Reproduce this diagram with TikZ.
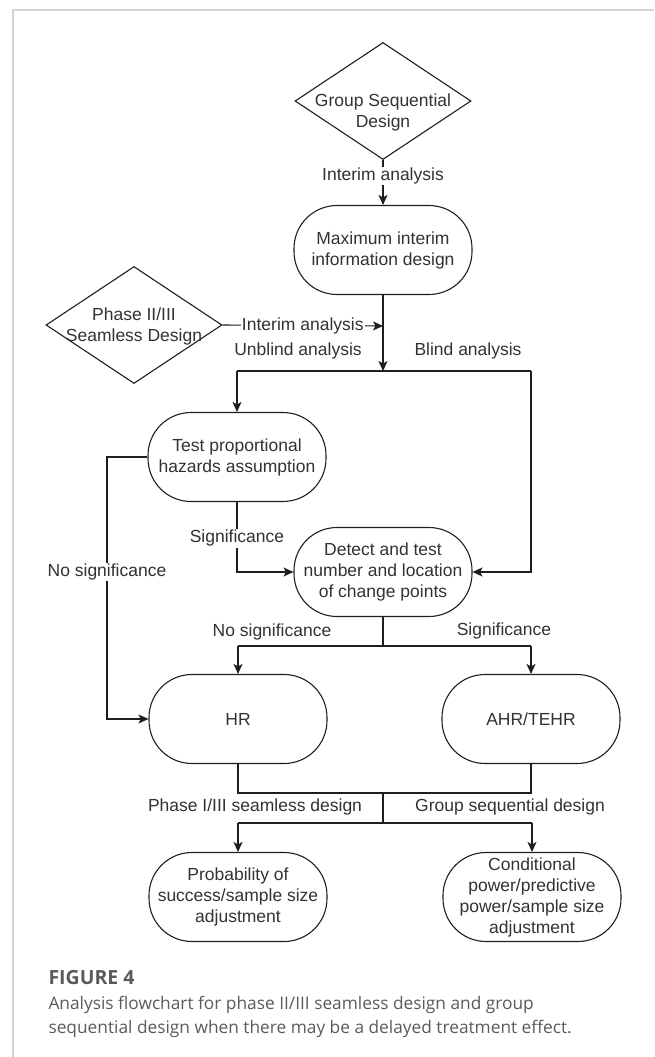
\documentclass[tikz,border=0pt]{standalone}
\usepackage{fontspec}
\setmainfont{Liberation Sans}
\newfontfamily\capfont{Open Sans}
\usepackage{tikz}
\usetikzlibrary{positioning, arrows.meta, shapes.geometric}
\definecolor{flowline}{RGB}{30, 30, 30}
\definecolor{flowtext}{RGB}{50, 50, 50}
\definecolor{framegray}{RGB}{212, 212, 212}
\definecolor{capgray}{RGB}{90, 90, 90}

\begin{document}
\begin{tikzpicture}[x=1pt, y=-1pt,
    every node/.style={font=\fontsize{17.5}{21}\selectfont, text=flowtext},
    box/.style={draw=flowline, line width=1.1pt, rectangle, rounded corners=43pt,
      minimum width=178pt, minimum height=89pt, align=center, inner sep=2pt},
    decision/.style={draw=flowline, line width=1.1pt, diamond,
      minimum width=176pt, minimum height=117pt, inner sep=0pt},
    lbl/.style={fill=white, inner sep=1pt},
    flow/.style={draw=flowline, line width=1.1pt},
    arr/.style={flow, -{Stealth[length=10pt, width=9pt, inset=2.5pt]}}]
  \useasboundingbox (0,0) rectangle (654,1057);

  % Frame
  \draw[framegray, line width=1.5pt] (13,1057) -- (13,10) -- (654,10);

  % Designs
  \node[decision] (gsd) at (383,101) {};
  \node[align=center] (gsdtxt) at (383,112) {Group Sequential\\Design};
  \node[decision] (phase) at (134,325) {};
  \node[align=center] (phasetxt) at (134,326) {Phase II/III\\Seamless Design};

  % Analyses
  \node[box] (maxinfo) at (383,250) {Maximum interim\\information design};
  \node[box] (testph) at (237,457) {Test proportional\\hazards assumption};
  \node[box] (detect) at (383,572) {Detect and test\\number and location\\of change points};
  \node[box] (hr) at (238,719) {HR};
  \node[box] (ahr) at (531,719) {AHR/TEHR};
  \node[box] (pos) at (238,897) {Probability of\\success/sample size\\adjustment};
  \node[box] (condpow) at (532,897) {Conditional\\power/predictive\\power/sample size\\adjustment};

  % Junctions
  \coordinate (jin) at (383,326);
  \coordinate (split1) at (383,371);
  \coordinate (lft1) at (237,371);
  \coordinate (rgt1) at (531,371);
  \coordinate (nosigx) at (107,457);
  \coordinate (split2) at (383,646);
  \coordinate (lft2) at (238,646);
  \coordinate (rgt2) at (531,646);
  \coordinate (lft3) at (238,793);
  \coordinate (rgt3) at (531,793);
  \coordinate (merge) at (383,793);
  \coordinate (split3) at (383,823);
  \coordinate (lft4) at (238,823);
  \coordinate (rgt4) at (532,823);

  % Connectors
  \draw[arr] (gsd) -- node[lbl, pos=0.35] (ialbl) {Interim analysis} (maxinfo);
  \draw[arr] (phase.east) -- node[lbl] (ialbl2) {Interim analysis} (jin);
  \draw[arr] (maxinfo) -- (split1);
  \draw[flow] (lft1) -- (rgt1);
  \draw[arr] (lft1) -- (testph);
  \draw[arr] (rgt1) |- (detect);
  \draw[arr] (testph) |- node[lbl, pos=0.26] (siglbl) {Significance} (detect);
  \draw[arr] (testph.west) -- (nosigx) |- node[lbl, pos=0.22] (nosiglbl) {No significance} (hr);
  \draw[flow] (detect) -- (split2);
  \draw[flow] (lft2) -- (rgt2);
  \draw[arr] (lft2) -- (hr);
  \draw[arr] (rgt2) -- (ahr);
  \draw[flow] (hr) -- (lft3) -- (rgt3) -- (ahr);
  \draw[flow] (merge) -- (split3);
  \draw[flow] (lft4) -- (rgt4);
  \draw[arr] (lft4) -- (pos);
  \draw[arr] (rgt4) -- (condpow);

  % Edge labels
  \node (unblind) at (298,351) {Unblind analysis};
  \node (blind) at (468,351) {Blind analysis};
  \node (nosig2) at (272,632) {No significance};
  \node (sig2) at (504,631) {Significance};
  \node (phlbl) at (255,807) {Phase I/III seamless design};
  \node (gslbl) at (510,807) {Group sequential design};

  % Caption
  \node[anchor=base west, font=\capfont\bfseries\fontsize{19.5}{22}\selectfont, text=capgray]
    (figno) at (45,984) {FIGURE 4};
  \node[anchor=base west, font=\capfont\fontsize{17.3}{24}\selectfont, text=capgray]
    (cap1) at (45,1009) {Analysis flowchart for phase II/III seamless design and group};
  \node[anchor=base west, font=\capfont\fontsize{17.3}{24}\selectfont, text=capgray]
    (cap2) at (45,1033) {sequential design when there may be a delayed treatment effect.};
\end{tikzpicture}
\end{document}
